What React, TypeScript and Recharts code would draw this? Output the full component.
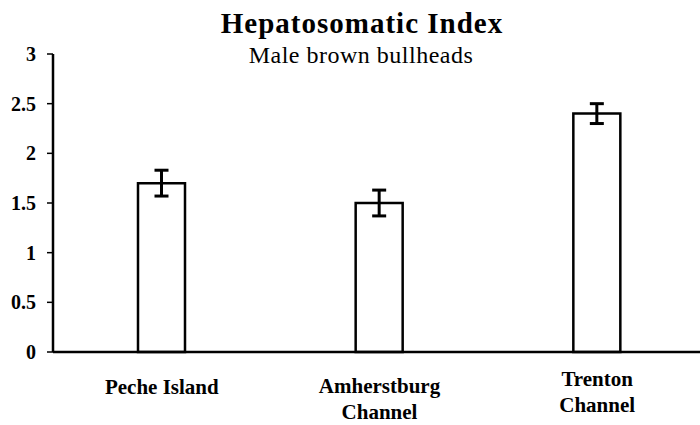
import { Bar, BarChart, ErrorBar, XAxis, YAxis } from "recharts";

const sites = ["Peche Island", "Amherstburg Channel", "Trenton Channel"];
const siteLines = [["Peche Island"], ["Amherstburg", "Channel"], ["Trenton", "Channel"]];
const hsiValues = [1.7, 1.5, 2.4];
const hsiErrors = [0.13, 0.13, 0.1];
const yTicks = [0, 0.5, 1, 1.5, 2, 2.5, 3];

const data = sites.map((site, i) => ({ site, hsi: hsiValues[i], err: hsiErrors[i] }));

const serif = '"Liberation Serif", "Times New Roman", serif';

// first-line offsets below the axis for each category label
const labelTop = [42, 41, 34];

const SiteTick = ({ x, y, payload, index }: any) => {
  const lines = siteLines[index] ?? [String(payload.value)];
  const top = labelTop[index] ?? 40;
  return (
    <text
      x={x}
      y={y}
      textAnchor="middle"
      fontFamily={serif}
      fontWeight="bold"
      fontSize={21}
      fill="#000"
    >
      {lines.map((line: string, i: number) => (
        <tspan key={line + i} x={x} y={y + top - 8 + i * 26}>
          {line}
        </tspan>
      ))}
    </text>
  );
};

export default function App() {
  return (
    <div style={{ position: "relative", width: 700, height: 425, overflow: "hidden", background: "#fff" }}>
      <style>{"body{margin:0}"}</style>
      <div
        style={{
          position: "absolute",
          left: 0,
          width: 724,
          top: 9,
          textAlign: "center",
          fontFamily: serif,
          fontWeight: "bold",
          fontSize: 29,
          letterSpacing: 1,
          lineHeight: "29px",
          color: "#000",
        }}
      >
        Hepatosomatic Index
      </div>
      <div
        style={{
          position: "absolute",
          left: 0,
          width: 722,
          top: 43,
          textAlign: "center",
          fontFamily: serif,
          fontSize: 24,
          letterSpacing: 0.5,
          lineHeight: "24px",
          color: "#000",
        }}
      >
        Male brown bullheads
      </div>
      <div style={{ position: "absolute", left: 0, top: 0 }}>
        <BarChart width={706} height={425} data={data} margin={{ top: 54, right: 0, bottom: 0, left: 0 }}>
          <XAxis
            dataKey="site"
            axisLine={{ stroke: "#000", strokeWidth: 2.5 }}
            tickLine={false}
            tick={<SiteTick />}
            interval={0}
            height={73}
          />
          <YAxis
            width={53}
            domain={[0, 3]}
            ticks={yTicks}
            interval={0}
            axisLine={{ stroke: "#000", strokeWidth: 2.5 }}
            tickLine={{ stroke: "#000", strokeWidth: 1.5 }}
            tickSize={6}
            tickMargin={11}
            tick={{ fontFamily: serif, fontWeight: "bold", fontSize: 20, fill: "#000" }}
          />
          <Bar dataKey="hsi" fill="#fff" stroke="#000" strokeWidth={2.5} barSize={47} isAnimationActive={false}>
            <ErrorBar dataKey="err" width={7} stroke="#000" strokeWidth={3} isAnimationActive={false} />
          </Bar>
        </BarChart>
      </div>
    </div>
  );
}
